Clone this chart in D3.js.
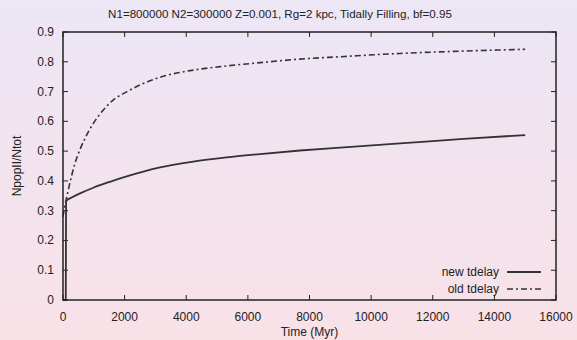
<!DOCTYPE html>
<html><head><meta charset="utf-8">
<script src="https://cdn.jsdelivr.net/npm/d3@7"></script>
<style>body{margin:0;padding:0;overflow:hidden}</style>
</head><body>
<script>
const titleText = "N1=800000 N2=300000 Z=0.001, Rg=2 kpc, Tidally Filling, bf=0.95";
const xTicks = [0,2000,4000,6000,8000,10000,12000,14000,16000];
const yTicks = [0,0.1,0.2,0.3,0.4,0.5,0.6,0.7,0.8,0.9];
const seriesNames = ["new tdelay","old tdelay"];
const newTime = [0,90,100,300,552,984,1525,2066,2607,3148,4229,5311,6393,7691,9000,10936,13000,15000];
const newVal  = [0,0,0.333,0.345,0.358,0.377,0.397,0.415,0.431,0.445,0.465,0.479,0.490,0.502,0.512,0.526,0.541,0.554];
const oldTime = [0,50,170,390,550,714,984,1309,1633,2066,2607,3148,4229,5311,6393,7691,9000,10936,13000,15000];
const oldVal  = [0.28,0.31,0.369,0.459,0.505,0.543,0.593,0.638,0.672,0.699,0.727,0.748,0.772,0.786,0.797,0.809,0.817,0.828,0.836,0.842];

const W=577,H=340;
const m={l:63,r:21,t:32,b:40};
const svg=d3.select("body").append("svg").attr("width",W).attr("height",H)
  .style("font-family","'Liberation Sans', Arial, sans-serif");
const defs=svg.append("defs");
const g=defs.append("linearGradient").attr("id","bg").attr("x1",0).attr("y1",0).attr("x2",0).attr("y2",1);
g.append("stop").attr("offset","0%").attr("stop-color","#ece6f5");
g.append("stop").attr("offset","100%").attr("stop-color","#f9e1e7");
svg.append("rect").attr("width",W).attr("height",H).attr("fill","url(#bg)");

const x=d3.scaleLinear().domain([0,16000]).range([m.l,W-m.r]);
const y=d3.scaleLinear().domain([0,0.9]).range([H-m.b,m.t]);
const ink="#222";

// ticks (inward, mirrored)
const tl=5;
const ax=svg.append("g");
ax.selectAll("line.xb").data(xTicks).join("line").attr("x1",d=>x(d)).attr("x2",d=>x(d))
  .attr("y1",y(0)).attr("y2",y(0)-tl).attr("stroke",ink).attr("stroke-width",1);
ax.selectAll("line.xt").data(xTicks).join("line").attr("x1",d=>x(d)).attr("x2",d=>x(d))
  .attr("y1",y(0.9)).attr("y2",y(0.9)+tl).attr("stroke",ink).attr("stroke-width",1);
ax.selectAll("line.yl").data(yTicks).join("line").attr("y1",d=>y(d)).attr("y2",d=>y(d))
  .attr("x1",x(0)).attr("x2",x(0)+tl).attr("stroke",ink).attr("stroke-width",1);
ax.selectAll("line.yr").data(yTicks).join("line").attr("y1",d=>y(d)).attr("y2",d=>y(d))
  .attr("x1",x(16000)).attr("x2",x(16000)-tl).attr("stroke",ink).attr("stroke-width",1);

ax.selectAll("text.xl").data(xTicks).join("text").attr("x",d=>x(d)).attr("y",y(0)+21)
  .attr("text-anchor","middle").attr("font-size",12).attr("fill",ink).text(d=>d);
ax.selectAll("text.yl").data(yTicks).join("text").attr("x",x(0)-9).attr("y",d=>y(d)+4)
  .attr("text-anchor","end").attr("font-size",12).attr("fill",ink).text(d=>d===0?"0":d.toFixed(1));

// lines
const newData=newTime.map((t,i)=>[t,newVal[i]]);
const oldData=oldTime.map((t,i)=>[t,oldVal[i]]);
const curve=d3.line().x(d=>x(d[0])).y(d=>y(d[1])).curve(d3.curveMonotoneX);
svg.append("path").attr("d",curve(newData)).attr("fill","none").attr("stroke","#333").attr("stroke-width",1.8);
svg.append("path").attr("d",curve(oldData)).attr("fill","none").attr("stroke","#333").attr("stroke-width",1.6)
  .attr("stroke-dasharray","6,3,2,3");

// border
svg.append("rect").attr("x",x(0)).attr("y",y(0.9)).attr("width",x(16000)-x(0)).attr("height",y(0)-y(0.9))
  .attr("fill","none").attr("stroke",ink).attr("stroke-width",1.5);

// legend
const lg=svg.append("g");
const legY=[272,289];
seriesNames.forEach((n,i)=>{
  lg.append("text").attr("x",499).attr("y",legY[i]+4).attr("text-anchor","end").attr("font-size",12).attr("fill",ink).text(n);
  lg.append("line").attr("x1",507).attr("x2",541).attr("y1",legY[i]).attr("y2",legY[i])
    .attr("stroke","#333").attr("stroke-width",i?1.6:1.8).attr("stroke-dasharray",i?"6,3,2,3":null);
});

// title and labels
svg.append("text").attr("x",280).attr("y",18).attr("text-anchor","middle").attr("font-size",11.6).attr("fill",ink).text(titleText);
svg.append("text").attr("x",(x(0)+x(16000))/2).attr("y",336).attr("text-anchor","middle").attr("font-size",12).attr("fill",ink).text("Time (Myr)");
svg.append("text").attr("transform",`translate(21,${(y(0)+y(0.9))/2}) rotate(-90)`).attr("text-anchor","middle").attr("font-size",12).attr("fill",ink).text("NpopII/Ntot");
</script>
</body></html>
